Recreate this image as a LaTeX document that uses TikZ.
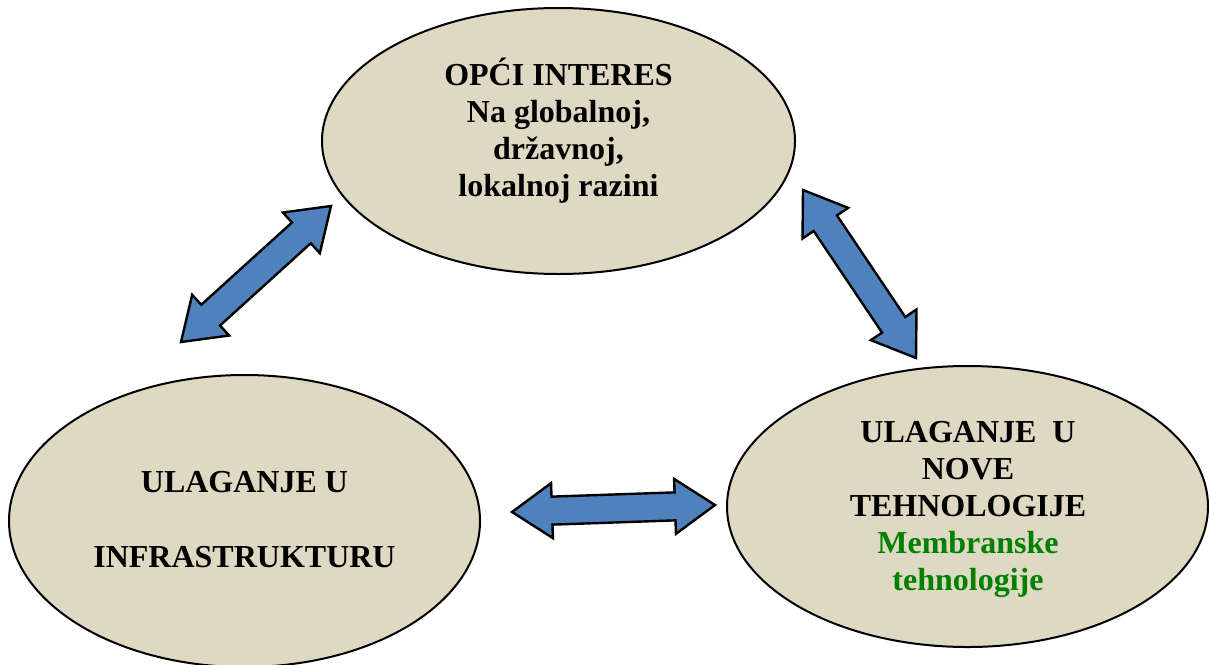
\documentclass[tikz,border=0pt]{standalone}
\usepackage{fontspec}
\setmainfont{Liberation Serif}
\usetikzlibrary{calc,shapes.geometric}

\definecolor{bubblefill}{HTML}{DDD9C3}
\definecolor{arrowblue}{HTML}{4F81BD}
\definecolor{membgreen}{RGB}{0,128,0}

% block double arrow: head length, head half width, shaft half width
\def\hlen{40pt}
\def\hhw{27.5pt}
\def\shw{14pt}
\newcommand\blockarrow[2]{%
  \path ($(#1)!\hlen!(#2)$) coordinate (ba-a)
        ($(#2)!\hlen!(#1)$) coordinate (ba-b);
  \filldraw[bluearrow] (#1)
    -- ($(ba-a)!\hhw!90:(#1)$) -- ($(ba-a)!\shw!90:(#1)$)
    -- ($(ba-b)!\shw!-90:(#2)$) -- ($(ba-b)!\hhw!-90:(#2)$)
    -- (#2)
    -- ($(ba-b)!\hhw!90:(#2)$) -- ($(ba-b)!\shw!90:(#2)$)
    -- ($(ba-a)!\shw!-90:(#1)$) -- ($(ba-a)!\hhw!-90:(#1)$)
    -- cycle;}

\begin{document}
\begin{tikzpicture}[x=1pt,y=-1pt,
  bubble/.style={ellipse, draw=black, line width=2pt, fill=bubblefill, inner sep=0pt},
  bubbletext/.style={align=center, font=\bfseries\fontsize{32}{37}\selectfont, anchor=base},
  bluearrow/.style={fill=arrowblue, draw=black, line width=2.4pt, line join=miter}]

\clip (0,0) rectangle (1209,664);

% the three ellipses
\node[bubble, minimum width=473pt, minimum height=266pt] (opci) at (558.5,141) {};
\node[bubble, minimum width=471pt, minimum height=292pt] (infra) at (244.5,521) {};
\node[bubble, minimum width=481pt, minimum height=281pt] (tehno) at (967.5,506.5) {};

% texts (anchored at the baseline of their last line)
\node[bubbletext] (opcitext) at (558.5,196) {OPĆI INTERES\\Na globalnoj,\\državnoj,\\lokalnoj razini};
\node[bubbletext] (infratext) at (244.5,567) {ULAGANJE U\\[38pt]INFRASTRUKTURU};
\node[bubbletext] (tehnotext) at (968,590) {ULAGANJE\ \ U\\NOVE\\TEHNOLOGIJE\\
  \textcolor{membgreen}{Membranske}\\\textcolor{membgreen}{tehnologije}};

% arrow end points
\coordinate (a1) at (181,342);
\coordinate (b1) at (331,206);
\coordinate (a2) at (803,190);
\coordinate (b2) at (916,358);
\coordinate (a3) at (512,512);
\coordinate (b3) at (715,505);

\blockarrow{a1}{b1}
\blockarrow{a2}{b2}
\blockarrow{a3}{b3}
\end{tikzpicture}
\end{document}
